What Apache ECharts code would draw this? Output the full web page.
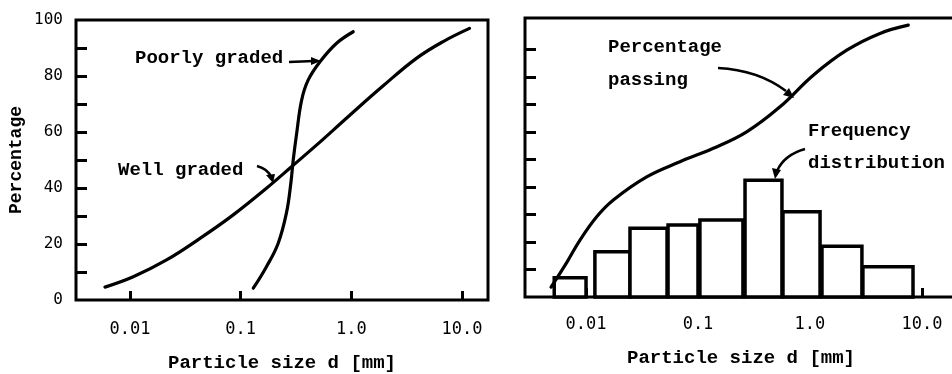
<!DOCTYPE html>
<html>
<head>
<meta charset="utf-8">
<script src="https://cdn.jsdelivr.net/npm/echarts@6/dist/echarts.min.js"></script>
<style>
  html, body { margin: 0; padding: 0; background: #fff; }
  #chart { width: 952px; height: 374px; }
</style>
</head>
<body>
<div id="chart"></div>
<script>
// ---- Data (particle size d in mm, percentages) ----
const xTickValues = [0.01, 0.1, 1.0, 10.0];
const xTickLabels = ['0.01', '0.1', '1.0', '10.0'];
const yTickLabels = [0, 20, 40, 60, 80, 100];
const yMinorTicks = [10, 20, 30, 40, 50, 60, 70, 80, 90];

// Left panel: grading curves
const wellD   = [0.00594, 0.0107, 0.0214, 0.0429, 0.0857, 0.171, 0.288, 0.484, 0.968, 1.94, 3.87, 6.76, 11.7];
const wellPct = [4.6, 8.3, 14.3, 22, 30.4, 39.9, 47.6, 55.3, 66, 76.5, 86.3, 92.3, 97];
const poorD   = [0.130, 0.171, 0.218, 0.259, 0.284, 0.2985, 0.3206, 0.3556, 0.408, 0.521, 0.736, 1.04];
const poorPct = [4.2, 11.9, 20.2, 31, 41.7, 50, 59.5, 71.4, 78.6, 85.1, 91.7, 95.8];

// Right panel: percentage passing + frequency distribution
const passD   = [0.00487, 0.00676, 0.00883, 0.01245, 0.01754, 0.0348, 0.069, 0.137, 0.272, 0.540, 1.07, 2.13, 4.22, 7.55];
const passPct = [3.6, 12.7, 20.7, 29.2, 35.3, 43.7, 49.2, 54.1, 60.1, 69.2, 80.7, 89.8, 95.9, 98.9];
const binLow  = [0.0052, 0.0120, 0.0247, 0.0540, 0.104, 0.263, 0.574, 1.28, 2.97];
const binHigh = [0.0100, 0.0247, 0.0529, 0.1000, 0.252, 0.562, 1.23, 2.91, 8.32];
const freq    = [7.0, 16.5, 25, 26.2, 28, 42.5, 31, 18.5, 11];

const L = Math.log10;
const pts = (ds, ps) => ds.map((d, i) => [L(d), ps[i]]);

const MONO = '"Liberation Mono", "Courier New", monospace';
const NUM = '"DejaVu Sans Mono", monospace';

function xAxisCfg(gridIndex, min, max, margin, nameGap) {
  return {
    type: 'value', gridIndex, min, max,
    axisLine: { show: false, onZero: false },
    splitLine: { show: false },
    axisTick: { show: true, inside: true, length: 9, lineStyle: { color: '#000', width: 3 },
                customValues: xTickValues.map(L) },
    axisLabel: { show: true, customValues: xTickValues.map(L), margin,
                 fontFamily: NUM, fontSize: 17, color: '#000',
                 formatter: v => { const i = xTickValues.findIndex(t => Math.abs(L(t) - v) < 1e-6); return i >= 0 ? xTickLabels[i] : ''; } },
    name: 'Particle size d [mm]', nameLocation: 'middle', nameGap,
    nameTextStyle: { fontFamily: MONO, fontWeight: 'bold', fontSize: 19, color: '#000' }
  };
}

function txt(text, x, y) {
  return { type: 'text', style: { text, x, y, verticalAlign: 'middle', fill: '#000', fontFamily: MONO, fontWeight: 'bold', fontSize: 19 } };
}

const option = {
  animation: false,
  backgroundColor: '#fff',
  grid: [
    { left: 76, top: 20, width: 412, height: 280, show: true, borderColor: '#000', borderWidth: 3, backgroundColor: 'transparent', outerBoundsMode: 'none', containLabel: false },
    { left: 525, top: 18, width: 432, height: 279, show: true, borderColor: '#000', borderWidth: 3, backgroundColor: 'transparent', outerBoundsMode: 'none', containLabel: false }
  ],
  xAxis: [
    xAxisCfg(0, -2.488, 1.235, 21, 54),
    xAxisCfg(1, -2.545, 1.313, 19, 52)
  ],
  yAxis: [
    { type: 'value', gridIndex: 0, min: 0, max: 100,
      axisLine: { show: false, onZero: false }, splitLine: { show: false },
      axisTick: { show: true, inside: true, length: 11, lineStyle: { color: '#000', width: 3 }, customValues: yMinorTicks },
      axisLabel: { show: true, customValues: yTickLabels, margin: 13, fontFamily: NUM, fontSize: 16, color: '#000', padding: [0, 0, 12, 0] },
      name: 'Percentage', nameLocation: 'middle', nameGap: 51, nameRotate: 90,
      nameTextStyle: { fontFamily: MONO, fontWeight: 'bold', fontSize: 18, color: '#000' } },
    { type: 'value', gridIndex: 1, min: 0, max: 101.5,
      axisLine: { show: false, onZero: false }, splitLine: { show: false },
      axisTick: { show: true, inside: true, length: 11, lineStyle: { color: '#000', width: 3 }, customValues: yMinorTicks },
      axisLabel: { show: false } }
  ],
  series: [
    { type: 'line', xAxisIndex: 0, yAxisIndex: 0, data: pts(wellD, wellPct), smooth: 0.4,
      showSymbol: false, lineStyle: { color: '#000', width: 3.2, cap: 'round' }, z: 3 },
    { type: 'line', xAxisIndex: 0, yAxisIndex: 0, data: pts(poorD, poorPct), smooth: 0.4,
      showSymbol: false, lineStyle: { color: '#000', width: 3.2, cap: 'round' }, z: 3 },
    { type: 'custom', xAxisIndex: 1, yAxisIndex: 1,
      data: binLow.map((lo, i) => [L(lo), L(binHigh[i]), freq[i]]),
      encode: { x: [0, 1], y: 2 },
      renderItem: (params, api) => {
        const p0 = api.coord([api.value(0), api.value(2)]);
        const p1 = api.coord([api.value(1), 0]);
        return { type: 'rect',
          shape: { x: p0[0], y: p0[1], width: p1[0] - p0[0], height: p1[1] - p0[1] },
          style: { fill: '#fff', stroke: '#000', lineWidth: 3.5 } };
      }, z: 2 },
    { type: 'line', xAxisIndex: 1, yAxisIndex: 1, data: pts(passD, passPct), smooth: 0.4,
      showSymbol: false, lineStyle: { color: '#000', width: 3.2, cap: 'round' }, z: 3 }
  ],
  graphic: [
    txt('Poorly graded', 135, 58),
    { type: 'line', shape: { x1: 289, y1: 62, x2: 314, y2: 61 }, style: { stroke: '#000', lineWidth: 2.5 } },
    { type: 'polygon', shape: { points: [[321, 61], [311, 57], [311, 65]] }, style: { fill: '#000' } },

    txt('Well graded', 118, 170),
    { type: 'bezierCurve', shape: { x1: 257, y1: 166, cpx1: 268, cpy1: 169, x2: 271, y2: 177 }, style: { stroke: '#000', lineWidth: 2.5, fill: 'none' } },
    { type: 'polygon', shape: { points: [[273, 183], [266, 175], [275, 174]] }, style: { fill: '#000' } },

    txt('Percentage', 608, 47),
    txt('passing', 608, 80),
    { type: 'bezierCurve', shape: { x1: 718, y1: 68, cpx1: 758, cpy1: 70, x2: 786, y2: 91 }, style: { stroke: '#000', lineWidth: 2.5, fill: 'none' } },
    { type: 'polygon', shape: { points: [[794, 98], [783, 95], [789, 88]] }, style: { fill: '#000' } },

    txt('Frequency', 808, 131),
    txt('distribution', 808, 163),
    { type: 'bezierCurve', shape: { x1: 805, y1: 149, cpx1: 784, cpy1: 155, x2: 777, y2: 171 }, style: { stroke: '#000', lineWidth: 2.5, fill: 'none' } },
    { type: 'polygon', shape: { points: [[775, 179], [772, 168], [781, 170]] }, style: { fill: '#000' } }
  ]
};

const chart = echarts.init(document.getElementById('chart'), null, { renderer: 'canvas' });
chart.setOption(option);
</script>
</body>
</html>
